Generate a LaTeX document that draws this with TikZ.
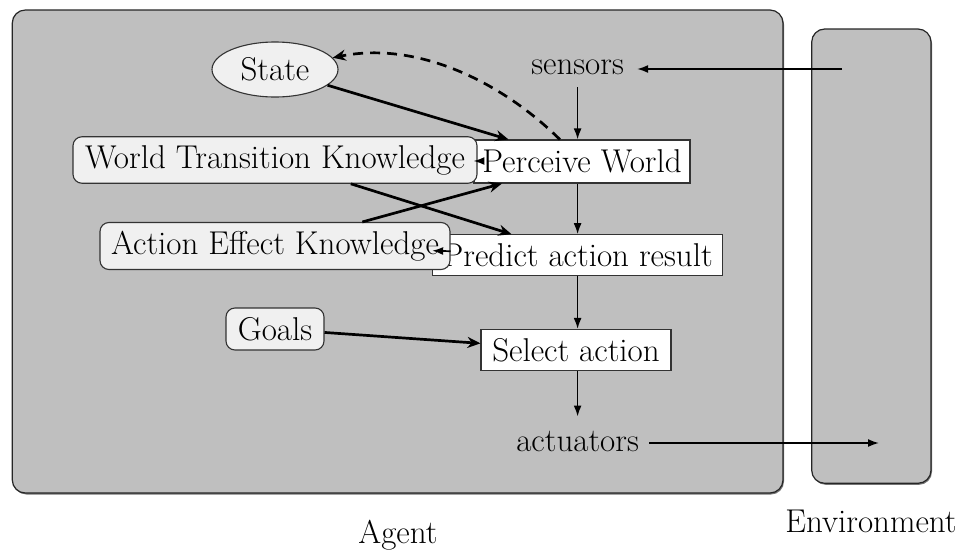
\documentclass[tikz,border=0pt]{standalone}
\usepackage{fontspec}
\usetikzlibrary{arrows.meta,shapes.geometric}
\definecolor{agentgray}{HTML}{BFBFBF}
\definecolor{boxfill}{HTML}{F0F0F0}
\begin{document}
\begin{tikzpicture}[x=1pt,y=-1pt,font=\fontsize{33}{37}\selectfont,
  container/.style={draw=black!85,line width=1.2pt,fill=agentgray,rounded corners=13pt},
  shadowbox/.style={fill=black!55,rounded corners=13pt},
  knowbox/.style={draw=black!80,line width=1.1pt,fill=boxfill,rounded corners=9pt,inner sep=0pt},
  procbox/.style={draw=black!80,line width=1.1pt,fill=white,inner sep=0pt},
  plainlabel/.style={inner sep=0pt},
  thinarrow/.style={line width=1.7pt,-{Latex[length=11pt,width=8pt]}},
  thickarrow/.style={line width=2.7pt,-{Stealth[length=13pt,width=11pt]}},
  dasharrow/.style={line width=2.7pt,dash pattern=on 10pt off 7pt,-{Stealth[length=13pt,width=11pt]}}]
\useasboundingbox (0,0) rectangle (963,549);
% containers
\fill[shadowbox] (13.3,11.5) rectangle (784,494.5);
\draw[container] (12.3,10) rectangle (783,493);
\fill[shadowbox] (812.7,30.5) rectangle (932,484.8);
\draw[container] (811.7,29) rectangle (931,483.3);
% nodes
\node[ellipse,draw=black!80,line width=1.1pt,fill=boxfill,minimum width=126pt,minimum height=55pt,inner sep=0pt] (state) at (275,69.5) {State};
\node[inner xsep=13pt,inner ysep=12.5pt] (sensors) at (577.6,67) {sensors};
\node[procbox,minimum width=216pt,minimum height=43pt] (pw) at (582,161.5) {Perceive World};
\node[knowbox,minimum width=404pt,minimum height=46.5pt] (wtk) at (275,160) {World Transition Knowledge};
\node[procbox,minimum width=290pt,minimum height=40.5pt] (predict) at (577.7,255) {Predict action result};
\node[knowbox,minimum width=350pt,minimum height=47pt] (aek) at (275,246) {Action Effect Knowledge};
\node[knowbox,minimum width=98pt,minimum height=42pt] (goals) at (275,329) {Goals};
\node[procbox,minimum width=190pt,minimum height=41pt] (select) at (576,350) {Select action};
\node[inner xsep=10pt,inner ysep=14pt] (act) at (577.6,441) {actuators};
\node[plainlabel,anchor=base] (agentlbl) at (398,543) {Agent};
\node[plainlabel,anchor=base] (envlbl) at (871,532) {Environment};
\coordinate (envout) at (842,69);
\coordinate (envin) at (879,443);
% connectors
\draw[thinarrow] (envout) -- (sensors.east |- envout);
\draw[thinarrow] (sensors.south) -- (sensors.south |- pw.north);
\draw[thinarrow] (sensors.south |- pw.south) -- (sensors.south |- predict.north);
\draw[thinarrow] (sensors.south |- predict.south) -- (sensors.south |- select.north);
\draw[thinarrow] (act.north |- select.south) -- (act.north);
\draw[thinarrow] (act.east |- envin) -- (envin);
\draw[thickarrow] (state) -- (pw);
\draw[thickarrow] (wtk) -- (predict);
\draw[thickarrow] (aek) -- (pw);
\draw[thickarrow] (goals) -- (select);
\draw[thinarrow] (wtk) -- (pw);
\draw[thinarrow] (aek) -- (predict);
\draw[dasharrow] (pw) .. controls (505,85) and (420,40) .. (state);
\end{tikzpicture}
\end{document}
